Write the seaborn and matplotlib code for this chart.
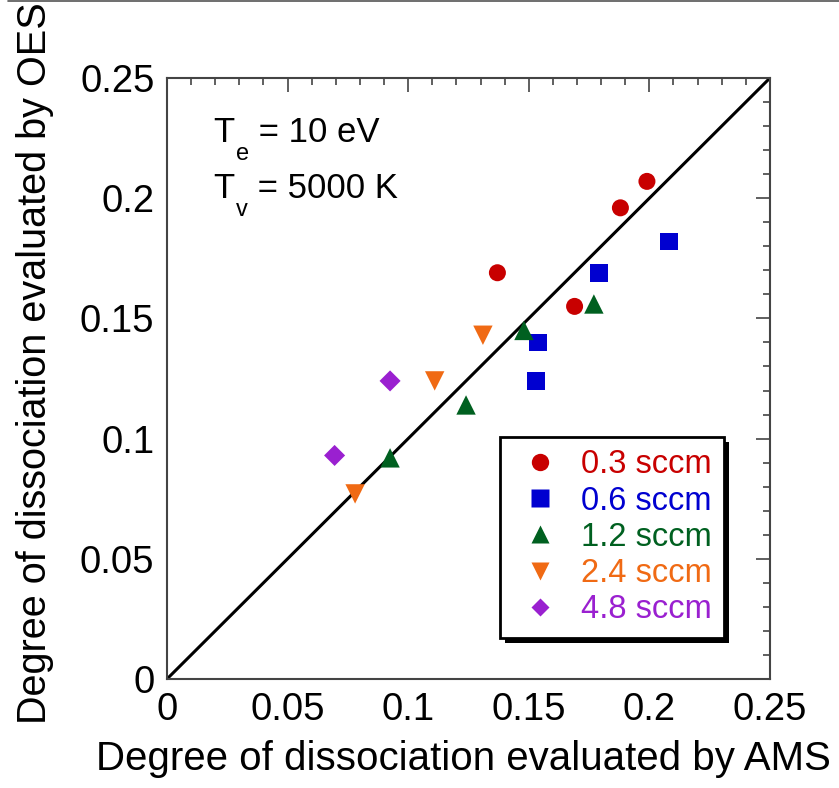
import matplotlib
matplotlib.use("Agg")
import matplotlib.pyplot as plt
import seaborn as sns
import pandas as pd
from matplotlib.lines import Line2D
from matplotlib.ticker import MultipleLocator
from matplotlib.transforms import offset_copy
import matplotlib.patheffects as pe

sns.set_style("white")
plt.rcParams['font.family'] = ['Liberation Sans', 'DejaVu Sans']
plt.rcParams['text.color'] = 'black'
plt.rcParams['axes.labelcolor'] = 'black'
plt.rcParams['xtick.labelcolor'] = 'black'
plt.rcParams['ytick.labelcolor'] = 'black'

# ---- data ----
flows = ["0.3 sccm", "0.6 sccm", "1.2 sccm", "2.4 sccm", "4.8 sccm"]
ams_03 = [0.137, 0.169, 0.188, 0.199]
oes_03 = [0.169, 0.155, 0.196, 0.207]
ams_06 = [0.208, 0.179, 0.154, 0.153]
oes_06 = [0.182, 0.169, 0.140, 0.124]
ams_12 = [0.177, 0.148, 0.124, 0.0925]
oes_12 = [0.156, 0.145, 0.114, 0.092]
ams_24 = [0.131, 0.111, 0.078]
oes_24 = [0.143, 0.124, 0.077]
ams_48 = [0.0925, 0.0695]
oes_48 = [0.124, 0.093]
ticks = [0, 0.05, 0.1, 0.15, 0.2, 0.25]
tick_labels = ["0", "0.05", "0.1", "0.15", "0.2", "0.25"]

colors = ["#C80000", "#0000D0", "#006020", "#F06A14", "#9A20D0"]
markers = ["o", "s", "^", "v", "D"]
sizes = [150, 165, 195, 195, 115]
leg_ms = [12.5, 12.5, 13.5, 13.5, 9.5]

ams_all = [ams_03, ams_06, ams_12, ams_24, ams_48]
oes_all = [oes_03, oes_06, oes_12, oes_24, oes_48]
rows = []
for f, xs, ys in zip(flows, ams_all, oes_all):
    for x, y in zip(xs, ys):
        rows.append({"AMS": x, "OES": y, "flow": f})
df = pd.DataFrame(rows)

fig = plt.figure(figsize=(8.39, 7.88), dpi=100)
ax = fig.add_axes([0.199, 0.1383, 0.7187, 0.7627])

ax.plot([0, 0.25], [0, 0.25], color="black", lw=2.2, zorder=1)

for f, c, m, s in zip(flows, colors, markers, sizes):
    sub = df[df["flow"] == f]
    sns.scatterplot(data=sub, x="AMS", y="OES", color=c, marker=m, s=s,
                    edgecolor="none", ax=ax, zorder=3, legend=False)

ax.set_xlim(0, 0.25)
ax.set_ylim(0, 0.25)
ax.set_xticks(ticks)
ax.set_yticks(ticks)
ax.set_xticklabels(tick_labels)
ax.set_yticklabels(tick_labels)
ax.xaxis.set_minor_locator(MultipleLocator(0.01))
ax.yaxis.set_minor_locator(MultipleLocator(0.01))
ax.tick_params(which="both", direction="in", top=True, right=True,
               color="#444444", width=1.2, labelcolor="black")
ax.tick_params(which="major", length=10, labelsize=27.5, pad=9)
ax.tick_params(which="minor", length=5)
for sp in ax.spines.values():
    sp.set_color("#444444")
    sp.set_linewidth(1.5)

ax.set_xlabel("Degree of dissociation evaluated by AMS", fontsize=29, color="black")
ax.set_ylabel("Degree of dissociation evaluated by OES", fontsize=28.5, color="black")
ax.xaxis.set_label_coords(0.4925, -0.102)
ax.yaxis.set_label_coords(-0.187, 0.525)

# annotation with manual subscripts
fig.canvas.draw()
renderer = fig.canvas.get_renderer()


def sub_text(x, y, main, subs, rest):
    t1 = ax.text(x, y, main, transform=ax.transAxes, fontsize=25, va="baseline",
                 color="black")
    w1 = t1.get_window_extent(renderer).width * 72 / fig.dpi
    tr2 = offset_copy(ax.transAxes, fig=fig, x=w1 + 1.5, y=-13, units="points")
    t2 = ax.text(x, y, subs, transform=tr2, fontsize=17, va="baseline", color="black")
    w2 = t2.get_window_extent(renderer).width * 72 / fig.dpi
    tr3 = offset_copy(ax.transAxes, fig=fig, x=w1 + w2 + 1.5, y=0, units="points")
    ax.text(x, y, rest, transform=tr3, fontsize=25, va="baseline", color="black")


sub_text(0.076, 0.8935, "T", "e", " = 10 eV")
sub_text(0.076, 0.800, "T", "v", " = 5000 K")

handles = [Line2D([], [], color=c, marker=m, linestyle="none",
                  markersize=ms, markeredgecolor="none")
           for c, m, ms in zip(colors, markers, leg_ms)]
leg = ax.legend(handles, flows, loc="upper left", bbox_to_anchor=(0.552, 0.4027),
                fontsize=23.5, frameon=True, fancybox=False, shadow=False,
                handletextpad=0.4, borderpad=0.38, labelspacing=0.16,
                handlelength=1.7, borderaxespad=0)
frame = leg.get_frame()
frame.set_edgecolor("black")
frame.set_linewidth(2)
frame.set_facecolor("white")
frame.set_alpha(1)
frame.set_path_effects([pe.SimplePatchShadow(offset=(3.5, -3.5), shadow_rgbFace="black",
                                             alpha=1.0), pe.Normal()])
for t, c in zip(leg.get_texts(), colors):
    t.set_color(c)

fig.add_artist(Line2D([0.01, 1.0], [0.999, 0.999], transform=fig.transFigure,
                      color="#555555", lw=1.2))

fig.savefig("out.png", dpi=100)
